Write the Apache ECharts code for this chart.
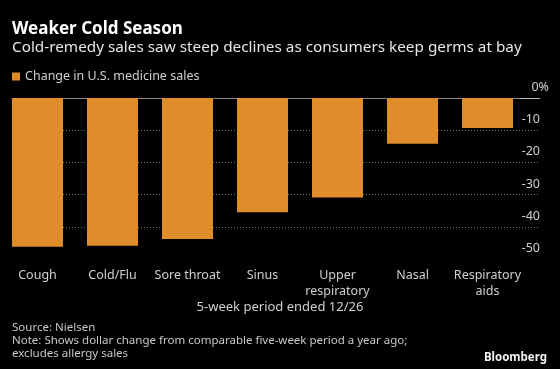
<!DOCTYPE html>
<html><head><meta charset="utf-8">
<script src="https://cdn.jsdelivr.net/npm/echarts@6/dist/echarts.min.js"></script>
<style>html,body{margin:0;padding:0;background:#000;}#c{width:560px;height:369px;}</style>
</head><body><div id="c"></div>
<script>
const categories = ['Cough', 'Cold/Flu', 'Sore throat', 'Sinus', 'Upper\nrespiratory', 'Nasal', 'Respiratory\naids'];
const salesChange = [-46.2, -45.9, -43.8, -35.5, -30.9, -14.2, -9.3];
const yTicks = [-50, -40, -30, -20, -10, 0];
const seriesName = 'Change in U.S. medicine sales';

const FONT = 'Noto Sans';
const chart = echarts.init(document.getElementById('c'), null, {renderer: 'canvas'});
const yMin = yTicks[0], yMax = yTicks[yTicks.length - 1];
chart.setOption({
  backgroundColor: '#000',
  animation: false,
  textStyle: {fontFamily: FONT},
  title: [
    {text: 'Weaker Cold Season', left: 12, top: 19, padding: 0,
     textStyle: {color: '#fff', fontSize: 17, fontWeight: 'bold', lineHeight: 20, fontFamily: FONT}},
    {text: 'Cold-remedy sales saw steep declines as consumers keep germs at bay', left: 12, top: 38, padding: 0,
     textStyle: {color: '#e6e6e6', fontSize: 15.3, fontWeight: 'normal', lineHeight: 20, fontFamily: FONT}},
    {text: '5-week period ended 12/26', left: 'center', top: 299, padding: 0,
     textStyle: {color: '#d0d0d0', fontSize: 13, fontWeight: 'normal', lineHeight: 16, fontFamily: FONT}},
    {text: 'Source: Nielsen\nNote: Shows dollar change from comparable five-week period a year ago;\nexcludes allergy sales',
     left: 12, top: 321, padding: 0,
     textStyle: {color: '#c8c8c8', fontSize: 11.5, fontWeight: 'normal', lineHeight: 13, fontFamily: FONT}},
    {text: 'Bloomberg', right: 13, top: 350, padding: 0,
     textStyle: {color: '#f0f0f0', fontSize: 11.5, fontWeight: 'bold', lineHeight: 16, fontFamily: FONT}}
  ],
  legend: {
    left: 12, top: 70, padding: 0, itemWidth: 8, itemHeight: 8, icon: 'rect',
    textStyle: {color: '#d0d0d0', fontSize: 12.5, fontFamily: FONT},
    data: [seriesName]
  },
  grid: [
    {left: 12, right: 20, top: 98, bottom: 110},
    {left: 0, right: 35, top: 98, bottom: 110},
    {left: 520, right: 21, top: 98, bottom: 111}
  ],
  xAxis: [
    {gridIndex: 0, type: 'value', min: 0, max: 1, position: 'top',
     axisLine: {show: true, lineStyle: {color: '#8a8a8a', width: 1}},
     axisTick: {show: false}, axisLabel: {show: false}, splitLine: {show: false}},
    {gridIndex: 1, type: 'category', data: categories, position: 'bottom',
     axisLine: {show: false},
     axisTick: {show: true, alignWithLabel: true, length: 4, lineStyle: {color: '#aaa'}},
     axisLabel: {color: '#d0d0d0', fontSize: 12.5, lineHeight: 16, margin: 8, fontFamily: FONT, interval: 0},
     splitLine: {show: false}},
    {gridIndex: 2, type: 'value', min: 0, max: 1, position: 'bottom',
     axisLine: {show: true, lineStyle: {color: '#bbb', width: 1}},
     axisTick: {show: false}, axisLabel: {show: false}, splitLine: {show: false}}
  ],
  yAxis: [
    {gridIndex: 0, type: 'value', min: yMin, max: yMax, interval: 10, position: 'right',
     axisLine: {show: false}, axisTick: {show: false},
     axisLabel: {inside: true, margin: -9, color: '#d0d0d0', fontSize: 12.5, fontFamily: FONT,
       verticalAlign: 'bottom', align: 'right', padding: [0, 0, 4, 0],
       formatter: v => v === 0 ? '0%' : v + '{s| }',
       rich: {s: {width: 9, fontSize: 12.5, fontFamily: FONT}}},
     splitLine: {show: true, lineStyle: {type: [1, 2], width: 1,
       color: ['rgba(0,0,0,0)', '#777', '#777', '#777', '#777', 'rgba(0,0,0,0)']}}},
    {gridIndex: 1, type: 'value', min: yMin, max: yMax, interval: 10, show: false},
    {gridIndex: 2, type: 'value', min: yMin, max: yMax, interval: 10, show: false}
  ],
  series: [{
    name: seriesName, type: 'bar', xAxisIndex: 1, yAxisIndex: 1,
    data: salesChange, barWidth: 51,
    itemStyle: {color: '#df8c2a'}
  }]
});
</script></body></html>
